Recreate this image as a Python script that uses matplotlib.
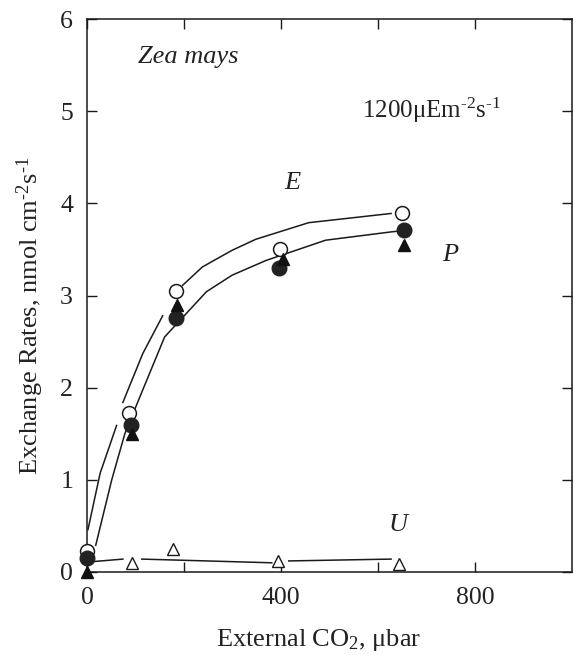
import numpy as np
import matplotlib
matplotlib.use("Agg")
import matplotlib.pyplot as plt

plt.rcParams['font.family'] = ['Liberation Serif', 'DejaVu Serif']
plt.rcParams['mathtext.fontset'] = 'custom'
plt.rcParams['mathtext.rm'] = 'Liberation Serif'
plt.rcParams['mathtext.it'] = 'Liberation Serif:italic'

nan = np.nan

# Measured points
E_x = [0, 86, 184, 397, 650]
E_y = [0.23, 1.72, 3.05, 3.50, 3.89]
P_circ_x = [0, 90, 184, 395, 654]
P_circ_y = [0.15, 1.60, 2.76, 3.30, 3.71]
P_tri_x = [0, 92, 186, 404, 654]
P_tri_y = [0.0, 1.50, 2.90, 3.40, 3.55]
U_x = [92, 178, 394, 643]
U_y = [0.10, 0.25, 0.12, 0.09]

# Fitted curves (with breaks)
E_curve_x = [2, 27, 61, nan, 74, 115, 156, nan, 197, 238, 299, 348, 457, 627]
E_curve_y = [0.46, 1.07, 1.59, nan, 1.84, 2.37, 2.78, nan, 3.11, 3.31, 3.49, 3.61, 3.79, 3.89]
P_curve_x = [18, 51, 78, 109, 160, 246, 299, 369, 492, 627, 645]
P_curve_y = [0.29, 1.00, 1.50, 1.90, 2.55, 3.04, 3.22, 3.38, 3.60, 3.69, 3.70]
U_curve_x = [6, 74, nan, 113, 381, nan, 416, 627]
U_curve_y = [0.11, 0.14, nan, 0.14, 0.10, nan, 0.12, 0.14]

fig = plt.figure(figsize=(5.74, 6.55), dpi=100)
ax = fig.add_axes([87/574, 1-572/655, (572-87)/574, (572-19)/655])

lc = '#1a1a1a'
tc = '#222222'
ax.plot(E_curve_x, E_curve_y, color=lc, lw=1.1, zorder=1)
ax.plot(P_curve_x, P_curve_y, color=lc, lw=1.1, zorder=1)
ax.plot(U_curve_x, U_curve_y, color=lc, lw=1.1, zorder=1)

ax.plot(E_x, E_y, 'o', ms=10, mfc='white', mec=lc, mew=1.1, zorder=3, clip_on=False)
ax.plot(P_circ_x, P_circ_y, 'o', ms=10.5, mfc='#222222', mec='#222222', zorder=4, clip_on=False)
ax.plot(P_tri_x, P_tri_y, '^', ms=8, mfc='#111111', mec='#111111', zorder=5, clip_on=False)
ax.plot(U_x, U_y, '^', ms=8, mfc='white', mec=lc, mew=1.0, zorder=3, clip_on=False)

ax.set_xlim(0, 1000)
ax.set_ylim(0, 6)
ax.set_xticks([0, 200, 400, 600, 800])
ax.set_xticklabels(['0', '', '400', '', '800'])
ax.set_yticks([0, 1, 2, 3, 4, 5, 6])
ax.tick_params(direction='in', length=7, width=1.0, labelsize=18.5, top=True, right=True,
               color=lc, labelcolor=tc)
ax.tick_params(axis='x', pad=11)
ax.tick_params(axis='y', pad=10)
for s in ax.spines.values():
    s.set_linewidth(1.1)
    s.set_color(lc)

ax.set_xlabel(r'External CO$_2$, μbar', fontsize=19, color=tc)
ax.xaxis.set_label_coords(0.478, -0.123)
ax.xaxis.label.set_va('center')
ax.set_ylabel('Exchange Rates, nmol cm$^{\\mathregular{\u20102}}$s$^{\\mathregular{\u20101}}$',
              fontsize=19, color=tc)
ax.yaxis.set_label_coords(-0.1175, 0.463)
ax.yaxis.label.set_va('center')

ax.text(105, 5.59, 'Zea mays', fontsize=19, style='italic', va='center', ha='left', color=tc)
ax.text(567, 5.01, '1200μEm$^{\\mathregular{\u20102}}$s$^{\\mathregular{\u20101}}$', fontsize=18,
        va='center', ha='left', color=tc)
ax.text(423, 4.22, 'E', fontsize=19, style='italic', ha='center', va='center', color=tc)
ax.text(748, 3.44, 'P', fontsize=19, style='italic', ha='center', va='center', color=tc)
ax.text(641, 0.51, 'U', fontsize=19, style='italic', ha='center', va='center', color=tc)

fig.savefig('out.png', dpi=100)
